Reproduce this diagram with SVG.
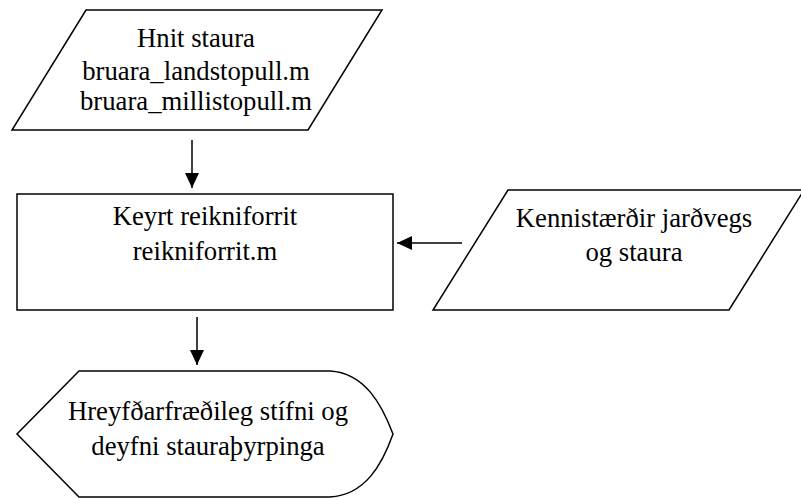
<svg xmlns="http://www.w3.org/2000/svg" width="801" height="498" viewBox="0 0 801 498">
  <style>
    .shape { fill: #ffffff; stroke: #000000; stroke-width: 1.5; stroke-linejoin: miter; }
    .label { font-family: "Liberation Serif", "Times New Roman", serif; font-size: 26.7px; fill: #000000; text-anchor: middle; }
    .edge { stroke: #000000; stroke-width: 1.5; fill: none; marker-end: url(#arrow); }
  </style>
  <defs>
    <marker id="arrow" viewBox="0 0 15 14" refX="15" refY="7" markerWidth="15" markerHeight="14" markerUnits="userSpaceOnUse" orient="auto">
      <path d="M0,0 L15,7 L0,14 Z" fill="#000000"/>
    </marker>
  </defs>
  <rect width="801" height="498" fill="#ffffff"/>

  <!-- input: pile coordinates -->
  <g id="hnit-staura">
    <polygon class="shape" points="86,10 382,10 308,130 12,130"/>
    <text class="label" x="196" y="47">Hnit staura</text>
    <text class="label" x="196" y="80">bruara_landstopull.m</text>
    <text class="label" x="196" y="110">bruara_millistopull.m</text>
  </g>

  <!-- process: run calculation program -->
  <g id="keyrt-reikniforrit">
    <rect class="shape" x="17" y="194" width="376" height="116"/>
    <text class="label" x="205" y="225">Keyrt reikniforrit</text>
    <text class="label" x="205" y="260">reikniforrit.m</text>
  </g>

  <!-- input: soil and pile parameters -->
  <g id="kennistaerdir">
    <polygon class="shape" points="508,190 804,190 729,310 433,310"/>
    <text class="label" x="634" y="227">Kennistærðir jarðvegs</text>
    <text class="label" x="634" y="261">og staura</text>
  </g>

  <!-- display: dynamic stiffness and damping -->
  <g id="stifni-deyfni">
    <path class="shape" d="M79,371 L330,371 C365,373 382,405 393,434 C382,465 365,495 330,497 L79,497 L17,434 Z"/>
    <text class="label" x="208" y="420">Hreyfðarfræðileg stífni og</text>
    <text class="label" x="208" y="455">deyfni stauraþyrpinga</text>
  </g>

  <g id="connectors">
    <line class="edge" x1="192" y1="140" x2="192" y2="188"/>
    <line class="edge" x1="462" y1="243" x2="397" y2="243"/>
    <line class="edge" x1="197" y1="317" x2="197" y2="365"/>
  </g>
</svg>
